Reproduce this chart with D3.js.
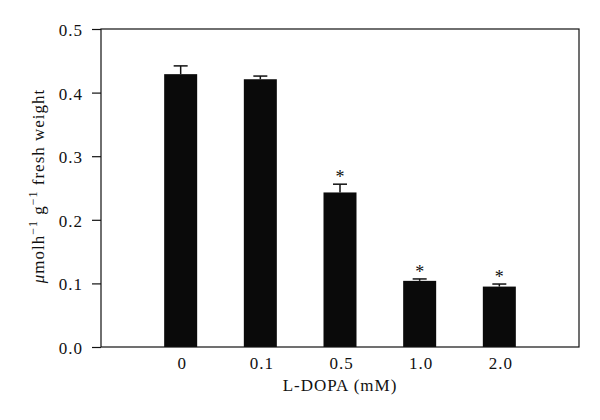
<!DOCTYPE html>
<html>
<head>
<meta charset="utf-8">
<script src="https://cdn.jsdelivr.net/npm/d3@7"></script>
<style>
  body { margin: 0; background: #fff; }
  svg { display: block; }
  text { font-family: "Liberation Serif", "DejaVu Serif", serif; fill: #111; letter-spacing: 1px; }
</style>
</head>
<body>
<svg id="chart" width="600" height="420"></svg>
<script>
// L-DOPA concentrations (mM)
var categories = ['0', '0.1', '0.5', '1.0', '2.0'];
// mean activity and upper error (SE)
var values = [0.429, 0.421, 0.243, 0.104, 0.095];
var errors = [0.013, 0.005, 0.013, 0.003, 0.004];
var significant = [false, false, true, true, true];
var yTicks = [0.0, 0.1, 0.2, 0.3, 0.4, 0.5];

var svg = d3.select('#chart');
var margin = { left: 101, right: 21, top: 29, bottom: 73 };
var width = 600 - margin.left - margin.right;
var height = 420 - margin.top - margin.bottom;

var g = svg.append('g')
    .attr('transform', 'translate(' + margin.left + ',' + margin.top + ')');

var x = d3.scalePoint()
    .domain(categories)
    .range([0, width])
    .padding(1);

var y = d3.scaleLinear()
    .domain([0, 0.5])
    .range([height, 0]);

var barWidth = 33;

// bars
g.append('g').selectAll('rect')
    .data(values)
    .enter().append('rect')
    .attr('x', function (d, i) { return x(categories[i]) - barWidth / 2; })
    .attr('y', function (d) { return y(d); })
    .attr('width', barWidth)
    .attr('height', function (d) { return height - y(d); })
    .attr('fill', '#0a0a0a');

// error bars (upper only)
var eb = g.append('g').attr('stroke', '#111').attr('stroke-width', 1.5);
values.forEach(function (d, i) {
    var cx = x(categories[i]);
    eb.append('line')
        .attr('x1', cx).attr('x2', cx)
        .attr('y1', y(d)).attr('y2', y(d + errors[i]));
    eb.append('line')
        .attr('x1', cx - 7).attr('x2', cx + 7)
        .attr('y1', y(d + errors[i])).attr('y2', y(d + errors[i]));
});

// significance stars
values.forEach(function (d, i) {
    if (!significant[i]) return;
    g.append('text')
        .attr('x', x(categories[i]))
        .attr('y', y(d + errors[i]) - 1)
        .attr('text-anchor', 'middle')
        .attr('font-size', 18)
        .style('letter-spacing', '0px')
        .style('fill', '#111')
        .text('*');
});

// frame
g.append('rect')
    .attr('x', 0).attr('y', 0)
    .attr('width', width).attr('height', height)
    .attr('fill', 'none')
    .attr('stroke', '#111')
    .attr('stroke-width', 1.2);

// y axis
var yAxis = g.append('g')
    .call(d3.axisLeft(y).tickValues(yTicks).tickSize(9).tickPadding(9)
        .tickFormat(d3.format('.1f')));
yAxis.select('.domain').remove();
yAxis.selectAll('line').attr('stroke', '#111').attr('stroke-width', 1.2);
yAxis.selectAll('text')
    .attr('font-size', 17)
    .attr('dy', '0.38em')
    .attr('fill', '#111')
    .style('font-family', '"Liberation Serif", serif');

// x labels (no tick marks)
var xAxis = g.append('g')
    .attr('transform', 'translate(0,' + height + ')')
    .call(d3.axisBottom(x).tickSize(0).tickPadding(10));
xAxis.select('.domain').remove();
xAxis.selectAll('text')
    .attr('font-size', 17)
    .attr('dx', 1)
    .attr('fill', '#111')
    .style('font-family', '"Liberation Serif", serif');

// axis titles
svg.append('text')
    .attr('x', margin.left + width / 2)
    .attr('y', 391)
    .attr('text-anchor', 'middle')
    .attr('font-size', 17)
    .text('L-DOPA (mM)');

var yl = svg.append('text')
    .attr('transform', 'translate(44,' + (margin.top + height / 2 - 2) + ') rotate(-90)')
    .attr('text-anchor', 'middle')
    .attr('font-size', 17);
yl.append('tspan').attr('font-style', 'italic').text('μ');
yl.append('tspan').text('molh');
yl.append('tspan').attr('baseline-shift', 'super').attr('font-size', 12).text('−1');
yl.append('tspan').text(' g');
yl.append('tspan').attr('baseline-shift', 'super').attr('font-size', 12).text('−1');
yl.append('tspan').text(' fresh weight');
</script>
</body>
</html>
